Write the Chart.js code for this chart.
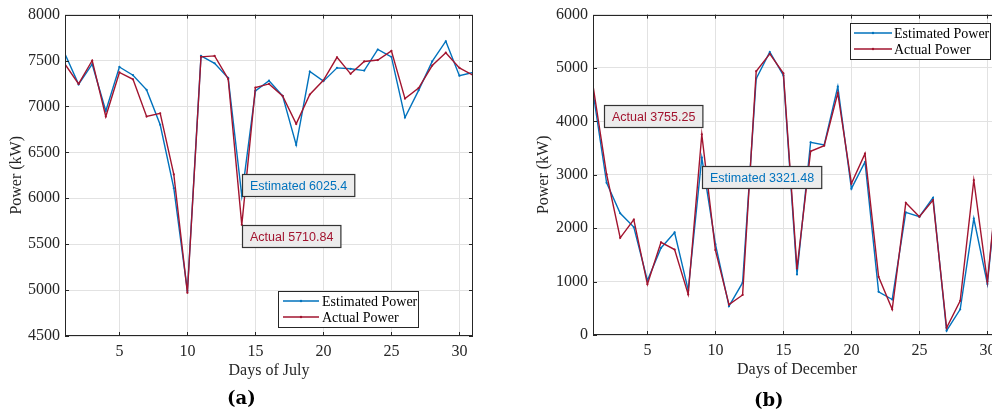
<!DOCTYPE html>
<html>
<head>
<meta charset="utf-8">
<script src="https://cdn.jsdelivr.net/npm/chart.js@4.4.1/dist/chart.umd.min.js"></script>
<style>
  html, body { margin: 0; padding: 0; background: #fff; }
  body { width: 992px; height: 414px; overflow: hidden; position: relative; }
  canvas { position: absolute; top: 0; }
  #julyChart { left: 0; }
  #decChart { left: 500px; }
  .cap { position: absolute; font-family: 'DejaVu Serif', serif; font-weight: bold; font-size: 18px; color: #000; }
</style>
</head>
<body>
<canvas id="julyChart" width="500" height="414"></canvas>
<canvas id="decChart" width="520" height="414"></canvas>
<div class="cap" style="left:227px; top:387px;">(a)</div>
<div class="cap" style="left:754px; top:389px;">(b)</div>
<script>
// dias del mes
const days = [1, 2, 3, 4, 5, 6, 7, 8, 9, 10, 11, 12, 13, 14, 15, 16, 17, 18, 19, 20, 21, 22, 23, 24, 25, 26, 27, 28, 29, 30, 31];
const xTicks = [5, 10, 15, 20, 25, 30];

// julio (a)
const julyEstimated = [7570, 7240, 7460, 6950, 7430, 7340, 7180, 6800, 6110, 4990, 7550, 7470, 7310, 6025.4, 7170, 7280, 7115, 6580, 7380, 7275, 7420, 7410, 7390, 7620, 7540, 6880, 7175, 7490, 7710, 7335, 7370];
const julyActual = [7460, 7245, 7500, 6890, 7370, 7295, 6890, 6925, 6260, 4970, 7540, 7550, 7300, 5710.84, 7205, 7245, 7115, 6810, 7130, 7285, 7535, 7355, 7490, 7505, 7605, 7085, 7200, 7445, 7585, 7420, 7340];
const julyYTicks = [4500, 5000, 5500, 6000, 6500, 7000, 7500, 8000];

// diciembre (b)
const decEstimated = [4550, 2850, 2280, 2020, 1020, 1630, 1920, 840, 3321.48, 1700, 540, 980, 4800, 5300, 4860, 1135, 3610, 3560, 4650, 2740, 3240, 810, 665, 2295, 2215, 2570, 80, 480, 2180, 955, 3500];
const decActual = [4670, 3010, 1820, 2160, 950, 1735, 1600, 760, 3755.25, 1590, 570, 750, 4940, 5265, 4900, 1245, 3440, 3545, 4530, 2835, 3395, 1090, 480, 2475, 2215, 2525, 135, 640, 2900, 1000, 3550];
const decYTicks = [0, 1000, 2000, 3000, 4000, 5000, 6000];

const BLUE = '#0072BD';
const RED = '#A2142F';
const AXIS = '#262626';
const GRID = '#e2e2e2';
const serif = 'Liberation Serif';

// marco, ticks hacia dentro, leyenda y etiquetas de datos
const extras = {
    id: 'extras',
    afterDatasetsDraw(chart, args, opts) {
        const { ctx, chartArea: a, scales: { x, y } } = chart;
        ctx.save();
        ctx.strokeStyle = AXIS;
        ctx.lineWidth = 1;
        ctx.beginPath();
        x.ticks.forEach(t => {
            const px = Math.round(x.getPixelForValue(t.value)) + 0.5;
            ctx.moveTo(px, a.bottom); ctx.lineTo(px, a.bottom - 4);
            ctx.moveTo(px, a.top); ctx.lineTo(px, a.top + 4);
        });
        y.ticks.forEach(t => {
            const py = Math.round(y.getPixelForValue(t.value)) + 0.5;
            ctx.moveTo(a.left, py); ctx.lineTo(a.left + 4, py);
            ctx.moveTo(a.right, py); ctx.lineTo(a.right - 4, py);
        });
        ctx.stroke();
        ctx.strokeRect(Math.round(a.left) + 0.5, Math.round(a.top) + 0.5, Math.round(a.width) - 1, Math.round(a.height) - 1);

        // etiquetas tipo datatip
        opts.tips.forEach(tip => {
            const ds = chart.data.datasets[tip.ds];
            const pt = ds.data[tip.day - 1];
            const px = x.getPixelForValue(pt.x);
            const py = y.getPixelForValue(pt.y);
            const text = tip.prefix + ' ' + pt.y;
            ctx.font = '12.5px "Liberation Sans"';
            const w = ctx.measureText(text).width + 15;
            const h = 22;
            let bx = px + tip.dx, by = py + tip.dy;
            if (tip.anchor === 'bl') by = py - h + tip.dy;
            if (tip.anchor === 'br') { bx = px - w + tip.dx; by = py - h + tip.dy; }
            bx = Math.round(bx) + 0.5; by = Math.round(by) + 0.5;
            ctx.fillStyle = '#ececec';
            ctx.fillRect(bx, by, w, h);
            ctx.strokeStyle = '#333';
            ctx.lineWidth = 1.2;
            ctx.strokeRect(bx, by, w, h);
            ctx.fillStyle = ds.borderColor;
            ctx.textBaseline = 'middle';
            ctx.textAlign = 'left';
            ctx.fillText(text, bx + 7.5, by + h / 2 + 1);
        });

        // leyenda
        const L = opts.legend;
        ctx.fillStyle = '#fff';
        ctx.fillRect(L.x, L.y, L.w, L.h);
        ctx.strokeStyle = AXIS;
        ctx.lineWidth = 1;
        ctx.strokeRect(L.x + 0.5, L.y + 0.5, L.w, L.h);
        ctx.font = '14px "' + serif + '"';
        ctx.textBaseline = 'middle';
        chart.data.datasets.forEach((ds, i) => {
            const ry = L.y + L.rows[i];
            ctx.strokeStyle = ds.borderColor;
            ctx.lineWidth = 1.5;
            ctx.beginPath();
            ctx.moveTo(L.x + L.line[0], ry); ctx.lineTo(L.x + L.line[1], ry);
            ctx.stroke();
            ctx.fillStyle = ds.borderColor;
            ctx.beginPath();
            ctx.arc(L.x + (L.line[0] + L.line[1]) / 2, ry, 1.2, 0, Math.PI * 2);
            ctx.fill();
            ctx.fillStyle = '#000';
            ctx.fillText(ds.label, L.x + L.text, ry + 1);
        });
        ctx.restore();
    }
};

function makeChart(id, p) {
    const tickFont = { family: serif, size: 16 };
    return new Chart(document.getElementById(id), {
        type: 'line',
        data: {
            datasets: [
                {
                    label: 'Estimated Power',
                    data: p.est.map((v, i) => ({ x: days[i], y: v })),
                    borderColor: BLUE, backgroundColor: BLUE,
                    borderWidth: 1.4, pointRadius: 1.1, pointBorderWidth: 0, pointHoverRadius: 0,
                    tension: 0, order: 1
                },
                {
                    label: 'Actual Power',
                    data: p.act.map((v, i) => ({ x: days[i], y: v })),
                    borderColor: RED, backgroundColor: RED,
                    borderWidth: 1.4, pointRadius: 1.1, pointBorderWidth: 0, pointHoverRadius: 0,
                    tension: 0, order: 0
                }
            ]
        },
        options: {
            responsive: false,
            animation: false,
            events: [],
            layout: { padding: p.padding },
            plugins: {
                legend: { display: false },
                tooltip: { enabled: false },
                extras: { tips: p.tips, legend: p.legend }
            },
            scales: {
                x: {
                    type: 'linear', min: 1, max: 31,
                    afterBuildTicks: s => { s.ticks = xTicks.map(v => ({ value: v })); },
                    afterFit: s => { s.height = 44; },
                    grid: { color: GRID, drawTicks: false },
                    border: { display: false },
                    ticks: { font: tickFont, color: AXIS, padding: 6, callback: v => String(v) },
                    title: { display: true, text: p.xTitle, font: tickFont, color: AXIS, padding: 0 }
                },
                y: {
                    type: 'linear', min: p.yTicks[0], max: p.yTicks[p.yTicks.length - 1],
                    afterBuildTicks: s => { s.ticks = p.yTicks.map(v => ({ value: v })); },
                    afterFit: s => { s.width = 65; },
                    grid: { color: GRID, drawTicks: false },
                    border: { display: false },
                    ticks: { font: tickFont, color: AXIS, padding: 5, callback: v => String(v) },
                    title: { display: true, text: 'Power (kW)', font: tickFont, color: AXIS, padding: { top: p.yTitlePad, bottom: 0 } }
                }
            }
        },
        plugins: [extras]
    });
}

makeChart('julyChart', {
    est: julyEstimated, act: julyActual, yTicks: julyYTicks,
    xTitle: 'Days of July',
    padding: { left: 0, right: 27, top: 14, bottom: 34 },
    yTitlePad: 7,
    tips: [
        { ds: 0, day: 14, prefix: 'Estimated', anchor: 'bl', dx: 0, dy: 0 },
        { ds: 1, day: 14, prefix: 'Actual', anchor: 'tl', dx: 0, dy: 0 }
    ],
    legend: { x: 278, y: 291, w: 140, h: 36, rows: [10, 26], line: [5, 41], text: 44 }
});

makeChart('decChart', {
    est: decEstimated, act: decActual, yTicks: decYTicks,
    xTitle: 'Days of December',
    padding: { left: 28, right: 19, top: 14, bottom: 35 },
    yTitlePad: 6,
    tips: [
        { ds: 1, day: 9, prefix: 'Actual', anchor: 'br', dx: 1, dy: -7 },
        { ds: 0, day: 9, prefix: 'Estimated', anchor: 'tl', dx: 0, dy: 8 }
    ],
    legend: { x: 350, y: 23, w: 140, h: 36, rows: [10, 26], line: [4, 42], text: 44 }
});
</script>
</body>
</html>
